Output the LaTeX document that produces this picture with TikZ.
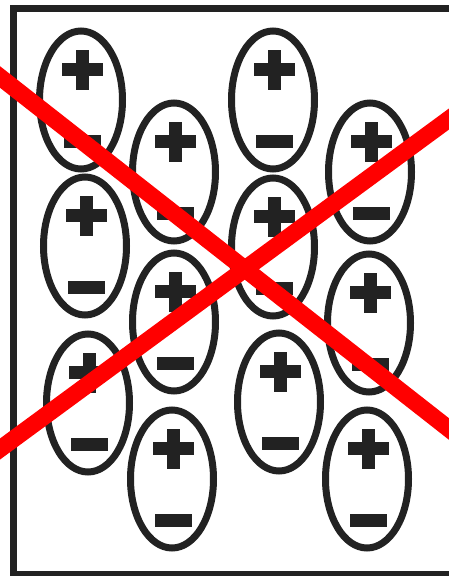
\documentclass[tikz,border=0pt]{standalone}
\usetikzlibrary{shapes.geometric}
\definecolor{ink}{HTML}{222222}
\definecolor{crossred}{HTML}{FF0000}
\tikzset{
  mol/.style={ellipse, draw=ink, line width=7pt, minimum width=83pt, minimum height=138pt, inner sep=0pt},
  frameline/.style={draw=ink, line width=7pt},
  crossline/.style={draw=crossred, line width=17pt},
}
\begin{document}
\begin{tikzpicture}[x=1pt,y=-1pt]
\useasboundingbox (0,0) rectangle (449,576);
\clip (0,0) rectangle (449,576);
\fill[white] (0,0) rectangle (449,576);
% frame (open on the right)
\coordinate (ftr) at (460,8);
\coordinate (ftl) at (13,8);
\coordinate (fbl) at (13,574.5);
\coordinate (fbr) at (460,574.5);
\draw[frameline] (ftr) -- (ftl) -- (fbl) -- (fbr);
% molecules
\foreach \n/\x/\y in {a/81/100, b/85/246, c/88/403,
                      d/174/172, e/174/322, f/172/479,
                      g/273/100, h/273/247, i/279/402,
                      j/370/172, k/369/323, l/367/479} {
  \node[mol] (\n) at (\x,\y) {};
  \fill[ink] (\x-19.5,\y-37) rectangle (\x+21.5,\y-24);
  \fill[ink] (\x-5.5,\y-50.5) rectangle (\x+7.5,\y-10.5);
  \fill[ink] (\x-17.5,\y+34.5) rectangle (\x+19.5,\y+47.5);
}
% red cross
\coordinate (r1a) at (-20,61.3);
\coordinate (r1b) at (469,444.7);
\coordinate (r2a) at (-20,463.7);
\coordinate (r2b) at (469,104.3);
\draw[crossline] (r1a) -- (r1b);
\draw[crossline] (r2a) -- (r2b);
\end{tikzpicture}
\end{document}
